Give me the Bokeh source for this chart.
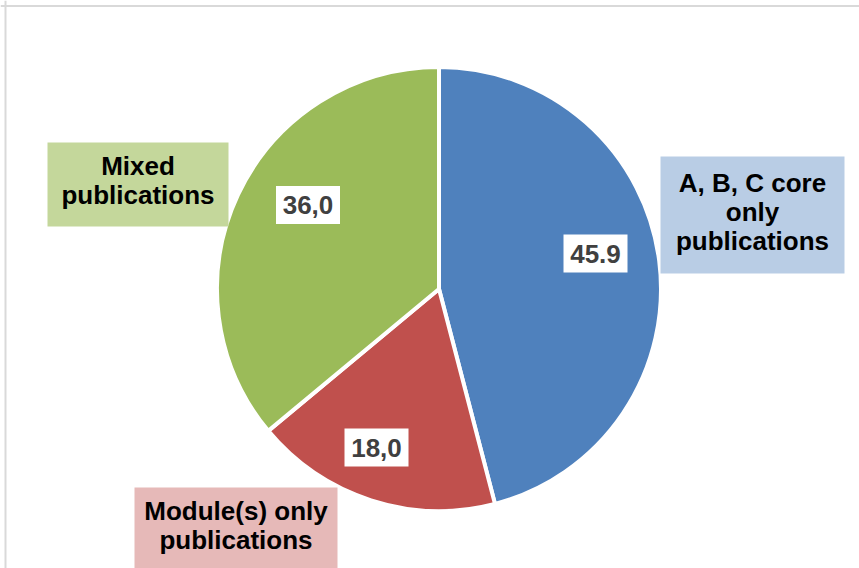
import math
from bokeh.plotting import figure
from bokeh.models import ColumnDataSource, Range1d, Span
from bokeh.core.properties import value
from bokeh.embed import file_html
from bokeh.resources import INLINE

# ---- data ----
categories = ["A, B, C core\nonly\npublications", "Module(s) only\npublications", "Mixed\npublications"]
values = [45.9, 18.0, 36.0]
value_labels = ["45.9", "18,0", "36,0"]

# ---- styles / layout ----
slice_colors = ["#4F81BD", "#C0504D", "#9BBB59"]
box_colors = ["#B9CDE5", "#E6B9B8", "#C4D79B"]
W, H = 859, 568
OFF = 0  # data units == screenshot pixels
cx, cy, R = 438.5, 288.5, 222
# value label box centres (pixels) and category box geometry (cx, cy, w, h)
val_pos = [(595, 253), (376, 447), (307.5, 204.5)]
cat_box = [(752, 214.5, 184, 117), (235.5, 529, 203, 84), (137.5, 184, 181, 84)]
cat_text_y = [211.5, 525, 180]

total = sum(values)
starts, ends = [], []
cum = 0.0
for v in values:
    s = cum / total
    cum += v
    e = cum / total
    # clockwise from 12 o'clock -> bokeh anticlock angles
    starts.append(math.pi / 2 - 2 * math.pi * e)
    ends.append(math.pi / 2 - 2 * math.pi * s)

src = ColumnDataSource(dict(start=starts, end=ends, color=slice_colors))

p = figure(width=W, height=H, output_backend="svg", toolbar_location=None,
           x_range=Range1d(OFF, OFF + W), y_range=Range1d(-(OFF + H), -OFF),
           x_axis_type=None, y_axis_type=None, min_border=0)
p.grid.visible = False
p.outline_line_color = None
p.background_fill_color = "white"
p.border_fill_color = "white"

# chart frame (top and left edges visible)
p.add_layout(Span(location=5, dimension="height", line_color="#D9D9D9", line_width=2))
p.add_layout(Span(location=-5.5, dimension="width", line_color="#D9D9D9", line_width=2))

p.wedge(x=cx, y=-cy, radius=R, start_angle="start", end_angle="end",
        direction="anticlock", fill_color="color", line_color="white",
        line_width=4, source=src)

# value labels
vsrc = ColumnDataSource(dict(x=[q[0] for q in val_pos], y=[-q[1] for q in val_pos], t=value_labels))
p.rect(x="x", y="y", width=64, height=38, fill_color="white", line_color=None, source=vsrc)
p.text(x="x", y="y", text="t", text_align="center", text_baseline="middle",
       text_font=value("Liberation Sans"), text_font_style="bold",
       text_font_size="26px", text_color="#404040", source=vsrc)

# category labels
csrc = ColumnDataSource(dict(
    x=[b[0] for b in cat_box], y=[-b[1] for b in cat_box],
    w=[b[2] for b in cat_box], h=[b[3] for b in cat_box],
    ty=[-t for t in cat_text_y], t=categories, c=box_colors))
p.rect(x="x", y="y", width="w", height="h", fill_color="c", line_color=None, source=csrc)
p.text(x="x", y="ty", text="t", text_align="center", text_baseline="middle",
       text_font=value("Liberation Sans"), text_font_style="bold",
       text_font_size="26px", text_color="black", text_line_height=0.96, source=csrc)

open("out.html", "w").write(file_html(p, INLINE))
